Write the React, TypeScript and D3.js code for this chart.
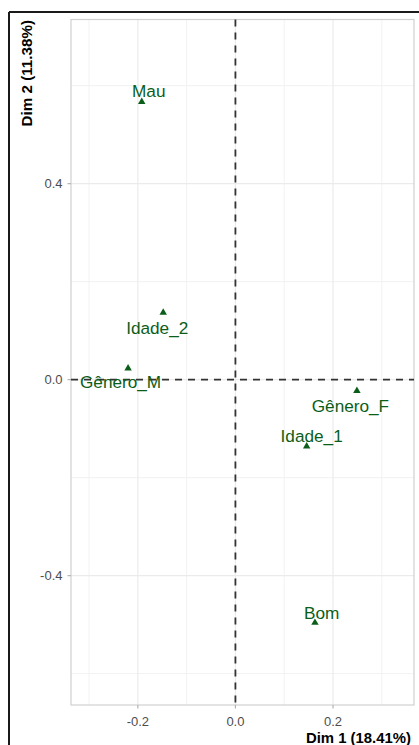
import React from "react";
import * as d3 from "d3";

const categories = ["Mau", "Idade_2", "Gênero_M", "Gênero_F", "Idade_1", "Bom"];
const dim1Values = [-0.192, -0.148, -0.22, 0.249, 0.146, 0.163];
const dim2Values = [0.567, 0.137, 0.023, -0.023, -0.136, -0.496];
const xTicks = [-0.2, 0.0, 0.2];
const yTicks = [-0.4, 0.0, 0.4];
const xMinor = [-0.3, -0.1, 0.1, 0.3];
const yMinor = [-0.6, -0.2, 0.2, 0.6];
const xTitle = "Dim 1 (18.41%)";
const yTitle = "Dim 2 (11.38%)";

// label offsets in pixels (repelled label layout)
const labelDx = [7, -6, -7.5, -6.5, 5, 6.7];
const labelDy = [-11, 15, 13, 14.5, -10.7, -10];

const W = 419;
const H = 745;
const panel = { left: 71, right: 414, top: 19.5, bottom: 705 };
const FONT = "'Liberation Sans', Arial, sans-serif";
const GREEN = "#0b5e1a";

export default function App() {
  const x = d3.scaleLinear().domain([-0.337, 0.366]).range([panel.left, panel.right]);
  const y = d3.scaleLinear().domain([-0.664, 0.735]).range([panel.bottom, panel.top]);
  const tri = d3.symbol().type(d3.symbolTriangle).size(24)();
  const fmt = d3.format(".1f");
  const fmtTick = (v: number) => (Math.abs(v) < 1e-9 ? "0.0" : fmt(v).replace("−", "-"));

  return (
    <svg
      width={W}
      height={H}
      style={{ position: "absolute", left: 0, top: 0, background: "#fff" }}
      fontFamily={FONT}
    >
      <rect x={0} y={0} width={W} height={H} fill="#fff" />
      {/* outer black frame (top + left) */}
      <line x1={9} x2={W} y1={12} y2={12} stroke="#1a1a1a" strokeWidth={2} />
      <line x1={9} x2={9} y1={12} y2={H} stroke="#1a1a1a" strokeWidth={2} />

      {/* minor grid */}
      {xMinor.map((v) => (
        <line key={"xm" + v} x1={x(v)} x2={x(v)} y1={panel.top} y2={panel.bottom} stroke="#f2f2f2" strokeWidth={1} />
      ))}
      {yMinor.map((v) => (
        <line key={"ym" + v} y1={y(v)} y2={y(v)} x1={panel.left} x2={panel.right} stroke="#f2f2f2" strokeWidth={1} />
      ))}
      {/* major grid */}
      {xTicks.map((v) => (
        <line key={"xg" + v} x1={x(v)} x2={x(v)} y1={panel.top} y2={panel.bottom} stroke="#ebebeb" strokeWidth={1.2} />
      ))}
      {yTicks.map((v) => (
        <line key={"yg" + v} y1={y(v)} y2={y(v)} x1={panel.left} x2={panel.right} stroke="#ebebeb" strokeWidth={1.2} />
      ))}

      {/* panel border */}
      <rect
        x={panel.left}
        y={panel.top}
        width={panel.right - panel.left}
        height={panel.bottom - panel.top}
        fill="none"
        stroke="#d0d0d0"
        strokeWidth={1.2}
      />

      {/* reference dashed lines */}
      <line x1={x(0)} x2={x(0)} y1={panel.top} y2={panel.bottom} stroke="#333" strokeWidth={1.8} strokeDasharray="7,6" />
      <line y1={y(0)} y2={y(0)} x1={panel.left} x2={panel.right} stroke="#333" strokeWidth={1.8} strokeDasharray="7,6" />

      {/* ticks */}
      {xTicks.map((v) => (
        <g key={"xt" + v}>
          <line x1={x(v)} x2={x(v)} y1={panel.bottom} y2={panel.bottom + 3.5} stroke="#b3b3b3" strokeWidth={1.2} />
          <text x={x(v)} y={725.5} textAnchor="middle" fontSize={13} fill="#4d4d4d">
            {fmtTick(v)}
          </text>
        </g>
      ))}
      {yTicks.map((v) => (
        <g key={"yt" + v}>
          <line x1={panel.left - 3.5} x2={panel.left} y1={y(v)} y2={y(v)} stroke="#b3b3b3" strokeWidth={1.2} />
          <text x={62.5} y={y(v)} dy="0.35em" textAnchor="end" fontSize={13} fill="#4d4d4d">
            {fmtTick(v)}
          </text>
        </g>
      ))}

      {/* axis titles */}
      <text x={411} y={743} textAnchor="end" fontSize={14.9} fontWeight="bold" fill="#000">
        {xTitle}
      </text>
      <text
        transform={`translate(31.5, 20) rotate(-90)`}
        textAnchor="end"
        fontSize={15.2}
        fontWeight="bold"
        fill="#000"
      >
        {yTitle}
      </text>

      {/* points */}
      {categories.map((c, i) => (
        <path key={"p" + c} d={tri ?? ""} transform={`translate(${x(dim1Values[i])},${y(dim2Values[i])})`} fill={GREEN} />
      ))}
      {/* labels */}
      {categories.map((c, i) => (
        <text
          key={"l" + c}
          x={x(dim1Values[i]) + labelDx[i]}
          y={y(dim2Values[i]) + labelDy[i]}
          dy="0.36em"
          textAnchor="middle"
          fontSize={17.2}
          fill={GREEN}
        >
          {c}
        </text>
      ))}
    </svg>
  );
}
